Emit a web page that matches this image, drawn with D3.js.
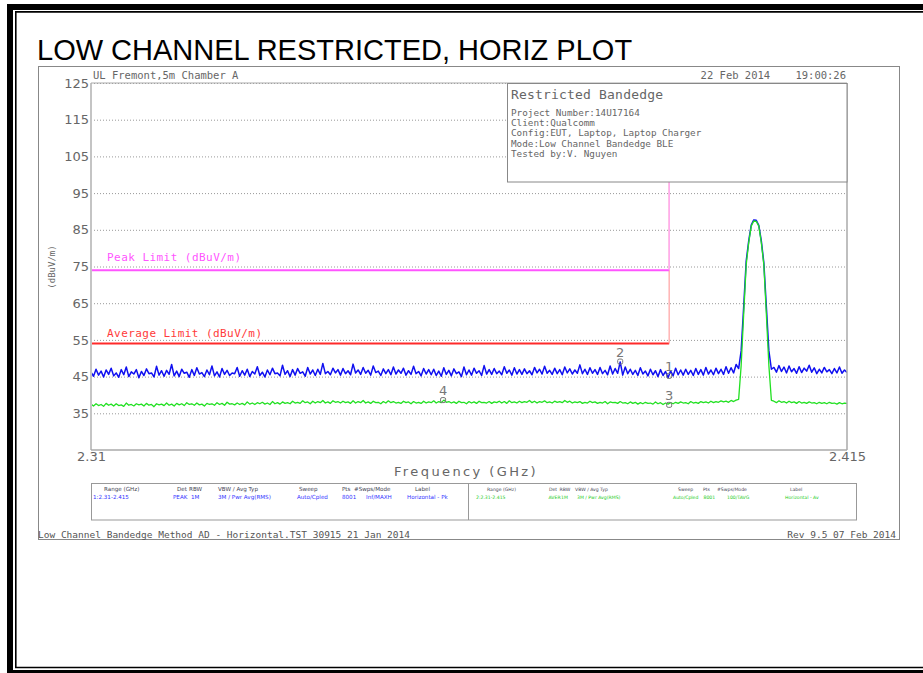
<!DOCTYPE html>
<html>
<head>
<meta charset="utf-8">
<script src="https://cdn.jsdelivr.net/npm/d3@7"></script>
<style>
  body { margin: 0; background: #fff; }
  svg { display: block; }
  .mono { font-family: "DejaVu Sans Mono", monospace; }
  .sans { font-family: "DejaVu Sans", sans-serif; }
</style>
</head>
<body>
<svg id="plot" width="923" height="673"></svg>
<script>
// -------------- DATA ----------------- //

const freqStart = 2.31;
const freqStop = 2.415;
const yTickValues = [35, 45, 55, 65, 75, 85, 95, 105, 115, 125];
const xTickValues = [2.31, 2.415];
const xTickLabels = ["2.31", "2.415"];

const peakLimit = 74;
const avgLimit = 54;
const limitStop = 2.3903;

// peak detector trace (dBuV/m), equally spaced over the sweep
const peakLevels = [
  46.2, 45.1, 47.0, 45.4, 46.5, 44.9, 46.8, 45.6, 47.3, 45.2,
  46.0, 44.8, 46.9, 45.5, 47.6, 45.0, 46.3, 45.7, 46.9, 44.7,
  46.4, 45.3, 47.1, 45.8, 46.0, 44.9, 47.8, 45.4, 46.6, 45.1,
  46.7, 45.6, 48.3, 45.2, 46.5, 45.0, 47.0, 45.9, 46.2, 44.8,
  46.9, 45.3, 47.4, 45.7, 46.1, 45.0, 46.8, 45.5, 47.9, 45.2,
  46.3, 44.9, 47.2, 45.6, 46.7, 45.3, 46.0, 45.8, 47.5, 45.1,
  46.6, 45.4, 47.0, 45.0, 46.4, 45.7, 47.7, 45.3, 46.2, 44.9,
  46.8, 45.5, 47.3, 45.8, 46.0, 45.2, 48.1, 45.6, 46.6, 45.0,
  46.9, 45.4, 47.2, 45.9, 46.3, 45.1, 47.5, 45.7, 46.8, 45.3,
  47.0, 45.6, 48.6, 45.8, 46.4, 45.5, 47.3, 46.0, 46.9, 45.4,
  47.2, 45.8, 46.6, 45.5, 48.4, 46.0, 46.8, 45.6, 47.5, 45.9,
  46.7, 45.4, 47.9, 46.1, 46.5, 45.3, 47.1, 45.8, 46.9, 45.5,
  47.6, 45.7, 46.8, 45.9, 47.3, 45.4, 46.6, 45.6, 47.8, 45.8,
  46.4, 45.2, 47.2, 45.7, 46.9, 45.5, 47.0, 45.3, 46.5, 45.1,
  47.4, 45.6, 46.7, 45.2, 47.1, 45.8, 46.3, 45.0, 47.6, 45.5,
  46.8, 45.4, 47.3, 45.9, 46.6, 45.3, 48.0, 45.7, 46.9, 45.6,
  47.2, 45.8, 46.5, 45.5, 47.7, 45.9, 46.8, 45.4, 47.4, 45.7,
  46.9, 45.6, 47.1, 45.8, 46.6, 45.5, 47.5, 46.0, 47.0, 45.7,
  47.8, 45.9, 46.7, 45.6, 47.3, 45.8, 46.9, 45.5, 47.6, 46.0,
  47.1, 45.7, 46.8, 45.9, 48.2, 45.8, 47.0, 45.6, 47.4, 45.9,
  46.9, 45.6, 47.5, 45.8, 46.7, 45.5, 47.9, 45.7, 47.2, 45.9,
  49.0, 45.4, 47.6, 45.8, 47.0, 45.6, 46.7, 45.3, 47.4, 45.7,
  46.5, 45.2, 47.0, 45.5, 46.6, 45.0, 46.9, 45.3, 46.4, 44.7,
  46.6, 45.2, 47.3, 45.5, 46.8, 45.4, 47.0, 45.6, 46.7, 45.3,
  47.2, 45.6, 46.9, 45.4, 47.5, 45.7, 46.8, 45.5, 47.3, 45.8,
  47.0, 45.6, 47.7, 45.9, 47.4, 46.0, 48.3,
  47.2, 52.0, 64.0, 76.5, 82.0, 86.3, 87.7, 87.6, 86.2, 82.0, 76.0, 64.0, 52.0, 47.0,
  47.5, 46.2, 48.0, 46.4, 47.6, 46.0, 47.9, 46.3, 47.2, 45.9,
  47.7, 46.1, 47.3, 46.5, 48.1, 46.2, 47.4, 45.8, 47.0, 46.0,
  47.5, 46.3, 46.9, 45.8, 47.2, 46.0, 47.6, 45.9, 46.8, 46.1
];

// average detector trace (dBuV/m)
const avgLevels = [
  37.5, 37.0, 37.6, 37.1, 37.4, 36.9, 37.7, 37.2, 37.5, 37.0,
  37.6, 37.1, 37.3, 36.9, 37.8, 37.2, 37.4, 37.0, 37.6, 37.3,
  37.5, 37.0, 37.7, 37.2, 37.4, 36.8, 37.6, 37.3, 37.5, 37.1,
  37.8, 37.2, 37.5, 37.0, 37.7, 37.3, 37.6, 37.1, 37.9, 37.4,
  37.6, 37.2, 37.8, 37.3, 37.5, 37.0, 37.7, 37.4, 37.6, 37.2,
  37.9, 37.4, 37.7, 37.2, 38.0, 37.5, 37.6, 37.3, 37.8, 37.4,
  37.7, 37.3, 38.1, 37.5, 37.8, 37.4, 37.9, 37.6, 38.0, 37.5,
  37.8, 37.4, 38.2, 37.6, 37.9, 37.5, 38.1, 37.7, 37.9, 37.6,
  38.3, 37.8, 38.0, 37.7, 38.4, 37.9, 38.1, 37.6, 38.3, 37.8,
  38.2, 37.9, 38.5, 37.8, 38.1, 37.7, 38.4, 38.0, 38.2, 37.8,
  38.3, 37.9, 38.1, 37.7, 38.4, 37.8, 38.2, 37.9, 38.5, 37.8,
  38.1, 37.7, 38.3, 37.9, 38.0, 37.6, 38.2, 37.8, 38.4, 37.9,
  38.2, 37.8, 38.0, 37.7, 38.3, 37.9, 38.1, 37.6, 38.2, 37.8,
  38.0, 37.7, 38.3, 37.8, 38.1, 37.9, 38.4, 37.8, 38.2, 37.9,
  38.6, 38.0, 38.2, 37.8, 38.1, 37.7, 38.3, 37.9, 38.0, 37.6,
  38.2, 37.8, 38.1, 37.7, 38.3, 37.9, 38.0, 37.8, 38.2, 37.7,
  38.1, 37.9, 38.3, 37.8, 38.2, 37.7, 38.4, 37.9, 38.1, 37.8,
  38.3, 37.9, 38.2, 38.0, 38.5, 37.9, 38.3, 37.8, 38.2, 38.0,
  38.4, 37.9, 38.1, 37.8, 38.3, 38.0, 38.2, 37.9, 38.5, 38.0,
  38.3, 37.8, 38.1, 37.9, 38.2, 37.7, 38.0, 37.8, 38.3, 37.9,
  38.1, 37.7, 38.0, 37.8, 38.2, 37.6, 38.1, 37.9, 38.0, 37.7,
  38.2, 37.8, 37.9, 37.6, 38.1, 37.7, 38.0, 37.5, 37.9, 37.6,
  38.0, 37.7, 37.8, 37.5, 38.1, 37.6, 37.9, 37.4, 37.8, 37.5,
  37.9, 37.6, 38.0, 37.7, 38.1, 37.8, 37.9, 37.6, 38.2, 37.8,
  38.0, 37.7, 38.2, 37.9, 38.1, 37.8, 38.3, 37.9, 38.2, 38.0,
  38.4, 38.1, 38.3, 38.0, 38.5, 38.2, 38.6,
  38.8, 48.0, 62.0, 75.5, 81.5, 86.0, 87.4, 87.3, 86.0, 81.5, 75.5, 62.0, 48.0, 38.5,
  38.3, 37.9, 38.4, 38.0, 38.2, 37.8, 38.3, 37.9, 38.1, 37.7,
  38.2, 37.8, 38.0, 37.7, 38.1, 37.8, 37.9, 37.6, 38.0, 37.7,
  37.9, 37.6, 38.0, 37.7, 37.8, 37.5, 37.9, 37.6, 37.8, 37.7
];

const markerIds = ["1", "2", "3", "4"];
const markerFreqs = [2.3903, 2.3835, 2.3903, 2.3589];
const markerLevels = [45.2, 49.1, 37.3, 38.6];

const infoTitle = "Restricted Bandedge";
const infoLines = [
  "Project Number:14U17164",
  "Client:Qualcomm",
  "Config:EUT, Laptop, Laptop Charger",
  "Mode:Low Channel Bandedge BLE",
  "Tested by:V. Nguyen"
];

const tableHeaders = ["Range (GHz)", "Det", "RBW", "VBW / Avg Typ", "Sweep", "Pts", "#Swps/Mode", "Label"];
const peakRow = ["1:2.31-2.415", "PEAK", "1M", "3M / Pwr Avg(RMS)", "Auto/Cpled", "8001", "Inf/MAXH", "Horizontal - Pk"];
const avgRow = ["2:2.31-2.415", "AVER", "1M", "3M / Pwr Avg(RMS)", "Auto/Cpled", "8001", "100/TAVG", "Horizontal - Av"];

// -------------- SETUP ----------------- //

const svg = d3.select("#plot");
const PLOT = { left: 91, right: 847, top: 83, bottom: 450 };
const GRAY = "#888";
const TEXT = "#666";

const x = d3.scaleLinear().domain([freqStart, freqStop]).range([PLOT.left, PLOT.right]);
const y = d3.scaleLinear().domain([25, 125]).range([PLOT.bottom, PLOT.top]);

// frequency of sweep point i
const freqAt = (i, n) => freqStart + i * (freqStop - freqStart) / (n - 1);

// -------------- PAGE FRAME ----------------- //

svg.append("rect").attr("x", 7).attr("y", 4).attr("width", 916).attr("height", 6).attr("fill", "#000");
svg.append("rect").attr("x", 7).attr("y", 4).attr("width", 6).attr("height", 669).attr("fill", "#000");
svg.append("rect").attr("x", 7).attr("y", 670).attr("width", 916).attr("height", 3).attr("fill", "#000");
svg.append("line").attr("x1", 15.8).attr("x2", 15.8).attr("y1", 11).attr("y2", 668)
    .attr("stroke", "#000").attr("stroke-width", 1.6);
svg.append("line").attr("x1", 15).attr("x2", 923).attr("y1", 11.8).attr("y2", 11.8)
    .attr("stroke", "#000").attr("stroke-width", 1.8);
svg.append("line").attr("x1", 15).attr("x2", 923).attr("y1", 667.5).attr("y2", 667.5)
    .attr("stroke", "#000").attr("stroke-width", 1.6);

svg.append("text")
    .attr("x", 37).attr("y", 60)
    .attr("font-family", "Liberation Sans, Arial, sans-serif")
    .attr("font-size", 29)
    .attr("fill", "#000")
    .text("LOW CHANNEL RESTRICTED, HORIZ PLOT");

// screenshot frame
svg.append("rect").attr("x", 38.5).attr("y", 66.5).attr("width", 861).attr("height", 473)
    .attr("fill", "none").attr("stroke", GRAY).attr("stroke-width", 1);

// -------------- AXES ----------------- //

const yAxis = svg.append("g")
    .attr("transform", `translate(${PLOT.left},0)`)
    .call(d3.axisLeft(y).tickValues(yTickValues).tickSize(-(PLOT.right - PLOT.left)).tickPadding(2));
yAxis.select(".domain").remove();
yAxis.selectAll(".tick line")
    .attr("stroke", "#999").attr("stroke-dasharray", "1,2").attr("stroke-width", 1);
yAxis.selectAll(".tick text")
    .attr("class", "sans").attr("font-size", 13).attr("fill", TEXT);

const xAxis = svg.append("g")
    .attr("transform", `translate(0,${PLOT.bottom})`)
    .call(d3.axisBottom(x).tickValues(xTickValues).tickSize(0).tickPadding(2)
        .tickFormat((d, i) => xTickLabels[i]));
xAxis.select(".domain").remove();
xAxis.selectAll(".tick text")
    .attr("class", "sans").attr("font-size", 13).attr("fill", TEXT);

svg.append("text")
    .attr("class", "sans")
    .attr("x", 466).attr("y", 476)
    .attr("text-anchor", "middle")
    .attr("font-size", 13).attr("letter-spacing", 2.4).attr("fill", TEXT)
    .text("Frequency (GHz)");

svg.append("text")
    .attr("class", "mono")
    .attr("transform", "translate(55,267) rotate(-90)")
    .attr("text-anchor", "middle")
    .attr("font-size", 9).attr("fill", TEXT)
    .text("(dBuV/m)");

// -------------- LIMITS AND TRACES ----------------- //

svg.append("clipPath").attr("id", "clip")
    .append("rect").attr("x", PLOT.left).attr("y", PLOT.top)
    .attr("width", PLOT.right - PLOT.left).attr("height", PLOT.bottom - PLOT.top);
const plot = svg.append("g").attr("clip-path", "url(#clip)");

function drawLimit(level, color, lightColor) {
    plot.append("line")
        .attr("x1", x(freqStart)).attr("x2", x(limitStop))
        .attr("y1", y(level)).attr("y2", y(level))
        .attr("stroke", color).attr("stroke-width", 2);
    plot.append("line")
        .attr("x1", x(limitStop)).attr("x2", x(limitStop))
        .attr("y1", y(level)).attr("y2", y(125))
        .attr("stroke", lightColor).attr("stroke-width", 1.2);
}
drawLimit(avgLimit, "#ff2a2a", "#ffa0a0");
drawLimit(peakLimit, "#ff55ff", "#ffa8ff");

const traceLine = n => d3.line()
    .x((d, i) => x(freqAt(i, n)))
    .y(d => y(d));

plot.append("path")
    .attr("d", traceLine(peakLevels.length)(peakLevels))
    .attr("fill", "none").attr("stroke", "#1010f0").attr("stroke-width", 1.5)
    .attr("stroke-linejoin", "round");
plot.append("path")
    .attr("d", traceLine(avgLevels.length)(avgLevels))
    .attr("fill", "none").attr("stroke", "#22e022").attr("stroke-width", 1.3)
    .attr("stroke-linejoin", "round");

// markers
markerIds.forEach((id, i) => {
    const mx = x(markerFreqs[i]);
    const my = y(markerLevels[i]);
    svg.append("rect")
        .attr("x", mx - 2.5).attr("y", my - 2.5).attr("width", 5).attr("height", 5)
        .attr("rx", 1.5)
        .attr("fill", "none").attr("stroke", "#777").attr("stroke-width", 1);
    svg.append("text")
        .attr("class", "sans")
        .attr("x", mx).attr("y", my - 5)
        .attr("text-anchor", "middle")
        .attr("font-size", 13).attr("fill", "#777")
        .text(id);
});

// plot border
svg.append("line").attr("x1", PLOT.left).attr("x2", PLOT.left).attr("y1", PLOT.top).attr("y2", PLOT.bottom)
    .attr("stroke", "#c4c4c4").attr("stroke-width", 2);
svg.append("line").attr("x1", PLOT.left).attr("x2", PLOT.right).attr("y1", PLOT.top).attr("y2", PLOT.top)
    .attr("stroke", "#aaa").attr("stroke-width", 1);
svg.append("line").attr("x1", PLOT.right).attr("x2", PLOT.right).attr("y1", PLOT.top).attr("y2", PLOT.bottom)
    .attr("stroke", "#aaa").attr("stroke-width", 1.5);
svg.append("line").attr("x1", PLOT.left).attr("x2", PLOT.right).attr("y1", PLOT.bottom).attr("y2", PLOT.bottom)
    .attr("stroke", "#aaa").attr("stroke-width", 1.5);

// -------------- LABELS ----------------- //

svg.append("text").attr("class", "mono")
    .attr("x", 93).attr("y", 79).attr("font-size", 10.5).attr("fill", TEXT)
    .text("UL Fremont,5m Chamber A");
svg.append("text").attr("class", "mono")
    .attr("x", 846).attr("y", 79).attr("text-anchor", "end")
    .attr("font-size", 10.5).attr("fill", TEXT).attr("xml:space", "preserve")
    .text("22 Feb 2014    19:00:26");

svg.append("text").attr("class", "mono")
    .attr("x", 107).attr("y", 261).attr("font-size", 11).attr("fill", "#ff55ff")
    .attr("textLength", 134).attr("lengthAdjust", "spacing")
    .text("Peak Limit (dBuV/m)");
svg.append("text").attr("class", "mono")
    .attr("x", 107).attr("y", 337).attr("font-size", 11).attr("fill", "#ff3a3a")
    .attr("textLength", 155).attr("lengthAdjust", "spacing")
    .text("Average Limit (dBuV/m)");

// info box
svg.append("rect").attr("x", 507.5).attr("y", 83.5).attr("width", 339.5).attr("height", 98.5)
    .attr("fill", "#fff").attr("stroke", GRAY).attr("stroke-width", 1);
svg.append("text").attr("class", "mono")
    .attr("x", 511).attr("y", 98.5).attr("font-size", 13).attr("fill", TEXT)
    .attr("textLength", 152).attr("lengthAdjust", "spacing")
    .text(infoTitle);
infoLines.forEach((line, i) => {
    svg.append("text").attr("class", "mono")
        .attr("x", 511).attr("y", 116 + i * 10.2).attr("font-size", 9.3).attr("fill", TEXT)
        .text(line);
});

// settings table
svg.append("rect").attr("x", 91.5).attr("y", 483.5).attr("width", 765).attr("height", 36.5)
    .attr("fill", "none").attr("stroke", "#999").attr("stroke-width", 1);
svg.append("line").attr("x1", 468.5).attr("x2", 468.5).attr("y1", 483.5).attr("y2", 520)
    .attr("stroke", "#999").attr("stroke-width", 1);

const leftHeadX = [104, 177, 189, 218, 299, 342, 354, 415];
const leftValX = [93, 173, 191, 218, 297, 342, 366, 407];
const rightHeadX = [487, 549, 559.5, 575, 678, 703, 717, 790];
const rightValX = [476, 548.5, 561, 577, 673, 703.5, 727, 785];

function tableRow(cells, xs, yPos, color, size) {
    cells.forEach((c, i) => {
        svg.append("text").attr("class", "sans")
            .attr("x", xs[i]).attr("y", yPos)
            .attr("font-size", size).attr("fill", color)
            .text(c);
    });
}
tableRow(tableHeaders, leftHeadX, 490.5, "#445", 5.6);
tableRow(peakRow, leftValX, 499, "#3333ff", 5.6);
tableRow(tableHeaders, rightHeadX, 490.5, "#445", 4.6);
tableRow(avgRow, rightValX, 499, "#22cc22", 4.6);

// footer
svg.append("text").attr("class", "mono")
    .attr("x", 38).attr("y", 537.5).attr("font-size", 9.5).attr("fill", "#555")
    .attr("textLength", 372).attr("lengthAdjust", "spacing")
    .text("Low Channel Bandedge Method AD - Horizontal.TST 30915 21 Jan 2014");
svg.append("text").attr("class", "mono")
    .attr("x", 896).attr("y", 537.5).attr("text-anchor", "end")
    .attr("font-size", 9.5).attr("fill", "#555")
    .text("Rev 9.5 07 Feb 2014");
</script>
</body>
</html>
